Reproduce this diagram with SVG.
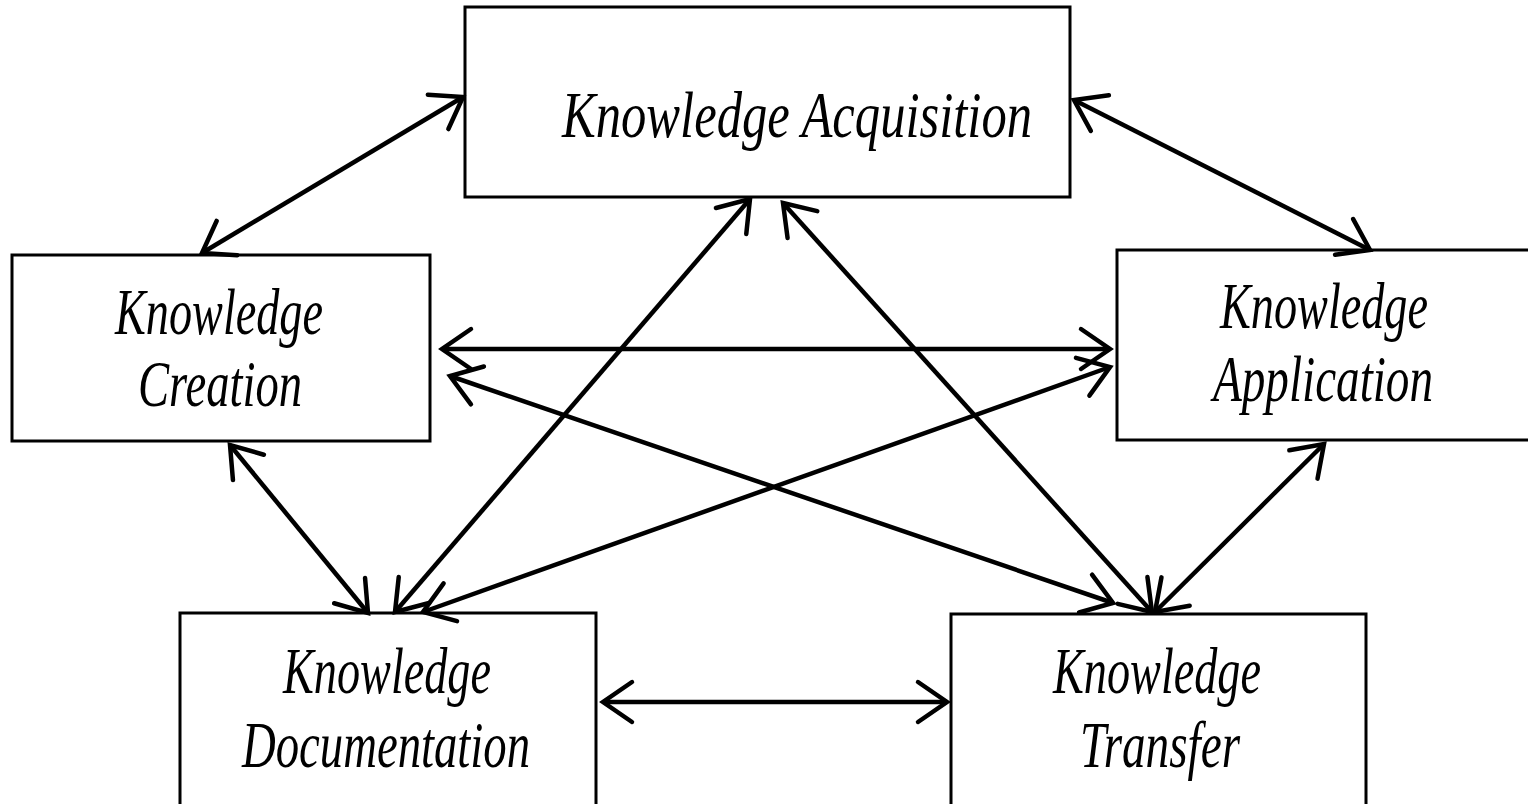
<svg xmlns="http://www.w3.org/2000/svg" width="1528" height="804" viewBox="0 0 1528 804">
<style>
.box{fill:#fff;stroke:#000;stroke-width:3}
.lbl{font-family:"Liberation Serif","Times New Roman",serif;font-style:italic;font-size:66px;fill:#000}
.con{stroke:#000;stroke-width:4.5;fill:none;marker-start:url(#ah);marker-end:url(#ah)}
</style>
<defs>
<marker id="ah" markerUnits="userSpaceOnUse" markerWidth="80" markerHeight="80" viewBox="-40 -40 80 80" refX="0" refY="0" orient="auto-start-reverse" overflow="visible">
<path d="M -29,-20 L 0,0 L -29,20" fill="none" stroke="#000" stroke-width="4.5" stroke-linecap="round" stroke-linejoin="miter"/>
</marker>
</defs>
<rect width="1528" height="804" fill="#fff"/>
<g id="node-acquisition">
<rect class="box" x="465" y="7" width="605" height="190"/>
<text class="lbl" x="562" y="137" textLength="470" lengthAdjust="spacingAndGlyphs">Knowledge Acquisition</text>
</g>
<g id="node-creation">
<rect class="box" x="12" y="255" width="418" height="186"/>
<text class="lbl" x="115" y="334" textLength="208" lengthAdjust="spacingAndGlyphs">Knowledge</text>
<text class="lbl" x="138" y="406" textLength="164" lengthAdjust="spacingAndGlyphs">Creation</text>
</g>
<g id="node-application">
<rect class="box" x="1117" y="250" width="420" height="190"/>
<text class="lbl" x="1220" y="328" textLength="208" lengthAdjust="spacingAndGlyphs">Knowledge</text>
<text class="lbl" x="1213" y="401" textLength="220" lengthAdjust="spacingAndGlyphs">Application</text>
</g>
<g id="node-documentation">
<rect class="box" x="180" y="613" width="416" height="200"/>
<text class="lbl" x="283" y="693" textLength="208" lengthAdjust="spacingAndGlyphs">Knowledge</text>
<text class="lbl" x="242" y="767" textLength="288" lengthAdjust="spacingAndGlyphs">Documentation</text>
</g>
<g id="node-transfer">
<rect class="box" x="951" y="614" width="415" height="200"/>
<text class="lbl" x="1053" y="693" textLength="208" lengthAdjust="spacingAndGlyphs">Knowledge</text>
<text class="lbl" x="1080" y="767" textLength="160" lengthAdjust="spacingAndGlyphs">Transfer</text>
</g>
<g id="connectors">
<line class="con" x1="202" y1="253" x2="463" y2="97"/>
<line class="con" x1="1074" y1="100" x2="1370" y2="250"/>
<line class="con" x1="442" y1="349" x2="1110" y2="349"/>
<line class="con" x1="450" y1="376" x2="1113" y2="603"/>
<line class="con" x1="1110" y1="367" x2="423" y2="612"/>
<line class="con" x1="750" y1="199" x2="395" y2="612"/>
<line class="con" x1="783" y1="203" x2="1152" y2="612"/>
<line class="con" x1="230" y1="445" x2="368" y2="613"/>
<line class="con" x1="1324" y1="444" x2="1155" y2="612"/>
<line class="con" x1="603" y1="702" x2="947" y2="702"/>
</g>
</svg>
